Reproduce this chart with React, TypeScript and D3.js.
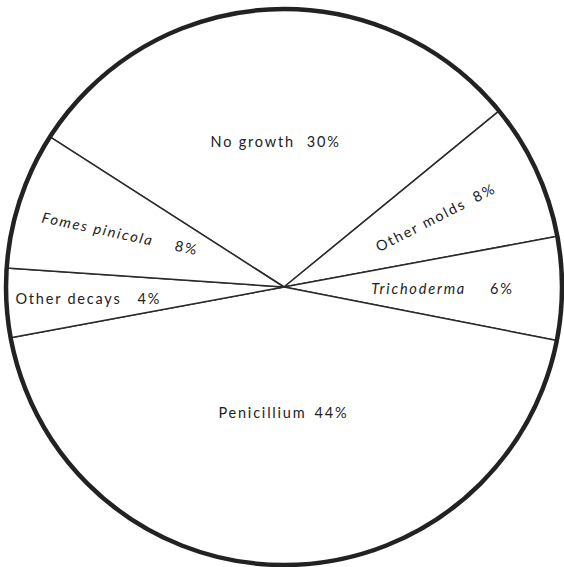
import React from "react";
import * as d3 from "d3";

const categories = ["No growth", "Other molds", "Trichoderma", "Penicillium", "Other decays", "Fomes pinicola"];
const values = [30, 8, 6, 44, 4, 8];
const italicNames = [false, false, true, false, false, true];

// label layout (radius fraction, rotation, gap between name and percent)
const labelRadius = [0.525, 0.6, 0.57, 0.45, 0.705, 0.62];
const labelRotate = [0, -27, 0, 0, 0, 12];
const labelGap = [12, 10, 24, 8, 16, 22];

const W = 564;
const H = 567;
const cx = 284;
const cy = 287;
const R = 278;

export default function App() {
  const data = categories.map((c, i) => ({ name: c, value: values[i], i }));
  const pie = d3
    .pie<any>()
    .sort(null)
    .value((d) => d.value)
    .startAngle((-57.3 * Math.PI) / 180)
    .endAngle((-57.3 * Math.PI) / 180 + 2 * Math.PI);
  const arcs = pie(data);
  const arc = d3.arc<any>().innerRadius(0).outerRadius(R);

  return (
    <svg
      width={W}
      height={H}
      style={{ position: "absolute", left: 0, top: 0, background: "#fff" }}
    >
      <g transform={`translate(${cx},${cy})`}>
        {arcs.map((a, i) => (
          <path key={i} d={arc(a) as string} fill="#fff" stroke="#2a2a2a" strokeWidth={1.5} strokeLinejoin="round" />
        ))}
        <circle r={R} fill="none" stroke="#222" strokeWidth={4.5} />
        {arcs.map((a, i) => {
          const mid = (a.startAngle + a.endAngle) / 2;
          const lr = R * labelRadius[i];
          const x = Math.sin(mid) * lr;
          const y = -Math.cos(mid) * lr;
          return (
            <text
              key={"t" + i}
              transform={`translate(${x},${y}) rotate(${labelRotate[i]})`}
              textAnchor="middle"
              dominantBaseline="central"
              fontFamily="Lato, 'Open Sans', sans-serif"
              fontSize={14.5}
              letterSpacing={1.8}
              fill="#222"
            >
              <tspan fontStyle={italicNames[i] ? "italic" : "normal"}>{a.data.name}</tspan>
              <tspan dx={labelGap[i]}>{a.data.value + "%"}</tspan>
            </text>
          );
        })}
      </g>
    </svg>
  );
}
